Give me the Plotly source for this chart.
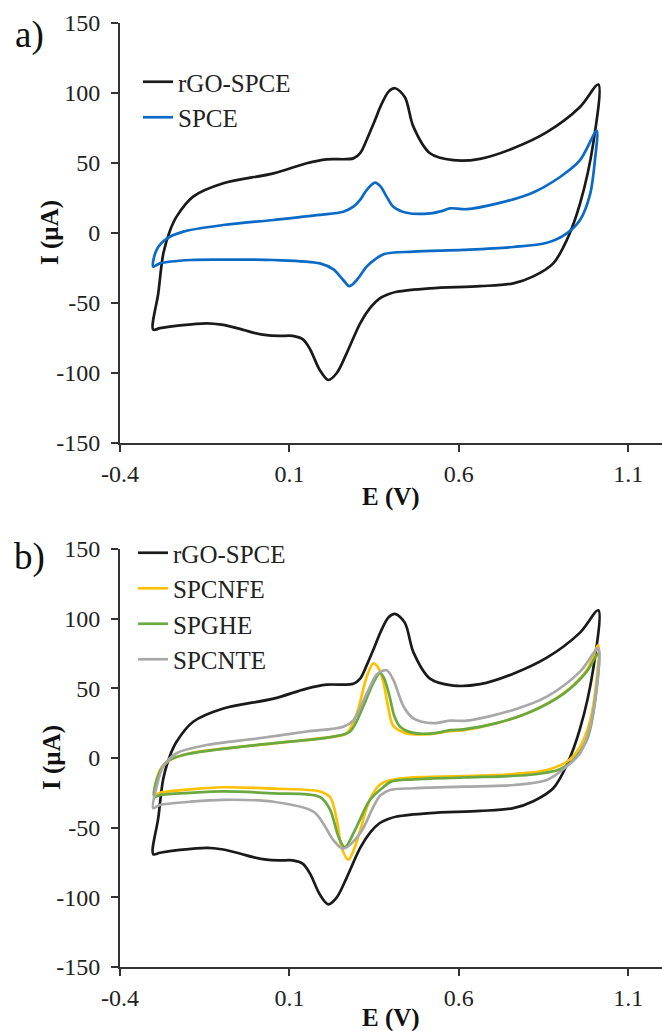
import plotly.graph_objects as go

# ---------------- data ----------------
# Panel a / b : rGO-SPCE (same curve in both panels)
rgo_E = [-0.302, -0.287, -0.272, -0.252, -0.233, -0.184, -0.095, 0.053, 0.151, 0.210,
         0.289, 0.309, 0.329, 0.350, 0.372, 0.393, 0.412, 0.441, 0.466, 0.515, 0.584,
         0.663, 0.761, 0.860, 0.958, 1.012, 0.997, 0.958, 0.919, 0.879, 0.820,
         0.761, 0.663, 0.515, 0.417, 0.390, 0.365, 0.340, 0.309, 0.269, 0.240, 0.215,
         0.190, 0.161, 0.140, 0.110, 0.072, 0.033, -0.010, -0.046, -0.100, -0.144,
         -0.223, -0.282, -0.302]
rgo_I = [-69, -43, -14.5, 2, 11.7, 26, 35.5, 42.6, 49.8, 52.6,
         53.3, 57, 67, 79, 92, 101, 103.4, 97, 76, 57, 52,
         53, 60.5, 72, 90, 106, 64, 21, -5, -21.7, -31,
         -36, -38, -39.5, -42, -44, -47, -53, -64.5, -86, -100, -105,
         -98, -83, -76, -73.5, -73.5, -73, -71, -68.5, -65.5, -64.5,
         -66, -68, -69]

# Panel a : SPCE
spce_E = [-0.302, -0.292, -0.262, -0.213, -0.095, 0.053, 0.190, 0.259, 0.289, 0.310,
          0.328, 0.353, 0.370, 0.387, 0.407, 0.446, 0.515, 0.555, 0.574, 0.624,
          0.712, 0.811, 0.899, 0.958, 1.007, 1.002, 0.988, 0.958, 0.919, 0.860,
          0.761, 0.614, 0.466, 0.380, 0.352, 0.328, 0.299, 0.277, 0.259, 0.230,
          0.190, 0.053, -0.095, -0.193, -0.282, -0.302]
spce_I = [-24, -12, -4, 1, 5.7, 9.3, 12.9, 15.2, 18.8, 24,
          30.7, 36, 33, 26, 18.8, 14.5, 14, 16, 17.6, 17,
          21, 28, 40, 52, 73, 52, 28, 9.3, -0.2, -7,
          -10, -12, -13.3, -15, -19, -24, -33.6, -38, -33.6, -26,
          -21.7, -19.3, -19, -19.3, -21.7, -24]

# Panel b : SPCNFE
spcnfe_E = [-0.297, -0.282, -0.252, -0.193, -0.046, 0.102, 0.230, 0.269, 0.299, 0.328,
            0.348, 0.362, 0.377, 0.392, 0.407, 0.446, 0.515, 0.565, 0.614, 0.712,
            0.811, 0.909, 0.978, 1.012, 1.007, 0.988, 0.958, 0.919, 0.860, 0.761,
            0.614, 0.466, 0.397, 0.368, 0.348, 0.328, 0.309, 0.290, 0.274, 0.254,
            0.240, 0.220, 0.190, 0.053, -0.095, -0.193, -0.282, -0.297]
spcnfe_I = [-26.6, -8.6, -1.4, 3.4, 8, 11.7, 15.3, 17.7, 32, 58,
            68, 65, 55, 36, 23, 17.7, 17.2, 19, 20, 25,
            33, 46.4, 63, 81, 56, 27, 8, -2.7, -8.6, -11.5,
            -13, -13.9, -16, -19, -25, -36, -52, -66, -73, -64,
            -44.5, -28, -24, -22, -21, -22.5, -25, -26.6]

# Panel b : SPGHE
spghe_E = [-0.299, -0.292, -0.262, -0.213, -0.046, 0.102, 0.230, 0.279, 0.318, 0.348,
           0.368, 0.380, 0.395, 0.410, 0.427, 0.466, 0.535, 0.574, 0.614, 0.712,
           0.811, 0.909, 0.978, 1.012, 0.997, 0.978, 0.938, 0.899, 0.811, 0.614,
           0.466, 0.400, 0.377, 0.338, 0.299, 0.264, 0.245, 0.220, 0.190, 0.053,
           -0.095, -0.193, -0.282, -0.299]
spghe_I = [-27.8, -16, -2.7, 2.2, 8, 11.7, 15.3, 19, 37, 54,
           61, 57, 45, 30, 22.5, 18, 18, 20, 20.5, 25,
           33, 46, 62, 75, 32, 13, -1.4, -8, -12, -14,
           -15.3, -17, -21, -30, -49, -64, -56.5, -37, -28, -25.4,
           -24, -25, -26.6, -27.8]

# Panel b : SPCNTE
spcnte_E = [-0.302, -0.292, -0.272, -0.233, -0.144, 0.004, 0.151, 0.259, 0.289, 0.328,
            0.358, 0.387, 0.407, 0.437, 0.466, 0.525, 0.574, 0.624, 0.761, 0.860,
            0.958, 1.012, 1.007, 0.988, 0.958, 0.919, 0.860, 0.761, 0.614, 0.466,
            0.397, 0.368, 0.348, 0.309, 0.259, 0.230, 0.200, 0.171, 0.053, -0.095,
            -0.193, -0.282, -0.302]
spcnte_I = [-36, -20.6, -6, 3.4, 9.3, 14, 19, 22.5, 27, 46,
            60, 63, 56, 37, 28.5, 25, 26.8, 26.8, 34.5, 44,
            62, 78.7, 51, 22.5, 3.4, -6, -15.8, -19.4, -20.6, -21.7,
            -23, -27, -35, -54, -65, -59, -47, -38.5, -31.4, -30,
            -31.4, -33.7, -36]

x_tickvals = [-0.4, 0.1, 0.6, 1.1]
x_ticktext = ["-0.4", "0.1", "0.6", "1.1"]
y_tickvals = [-150, -100, -50, 0, 50, 100, 150]
y_ticktext = ["-150", "-100", "-50", "0", "50", "100", "150"]

# ---------------- figure ----------------
SERIF = "Liberation Serif"
BLACK = "#1a1a1a"
BLUE = "#0a6ac6"
YELLOW = "#ffc000"
GREEN = "#6aa842"
GRAY = "#a8a8a8"
LW = 2.7

fig = go.Figure()

def add(E, I, name, color, xa, ya, legend, group):
    fig.add_trace(go.Scatter(
        x=E, y=I, name=name, mode="lines",
        line=dict(color=color, width=LW, shape="spline", smoothing=0.9),
        xaxis=xa, yaxis=ya, legend=legend, legendgroup=group))

add(rgo_E, rgo_I, "rGO-SPCE", BLACK, "x", "y", "legend", "a1")
add(spce_E, spce_I, "SPCE", BLUE, "x", "y", "legend", "a2")
add(rgo_E, rgo_I, "rGO-SPCE", BLACK, "x2", "y2", "legend2", "b1")
add(spcnfe_E, spcnfe_I, "SPCNFE", YELLOW, "x2", "y2", "legend2", "b2")
add(spghe_E, spghe_I, "SPGHE", GREEN, "x2", "y2", "legend2", "b3")
add(spcnte_E, spcnte_I, "SPCNTE", GRAY, "x2", "y2", "legend2", "b4")

axis_common = dict(showline=True, linecolor="#333333", linewidth=2,
                   ticks="outside", ticklen=7, tickwidth=2, tickcolor="#333333",
                   showgrid=False, zeroline=False, automargin=False,
                   tickfont=dict(family=SERIF, size=24, color="#222222"),
                   tickmode="array")

xa = dict(axis_common, range=[-0.4, 1.2], tickvals=x_tickvals, ticktext=x_ticktext,
          ticklabelstandoff=1)
ya = dict(axis_common, range=[-150, 150], tickvals=y_tickvals, ticktext=y_ticktext,
          ticklabelstandoff=6)

H_TOP, H_BOT = 23, 967
def py(p):  # pixel y -> paper y
    return (H_BOT - p) / (H_BOT - H_TOP)
def px(p):  # pixel x -> paper x
    return (p - 120) / 542

fig.update_layout(
    width=662, height=1031,
    margin=dict(l=120, r=0, t=23, b=64, autoexpand=False),
    paper_bgcolor="white", plot_bgcolor="white",
    xaxis=dict(xa, domain=[0, 1], anchor="y"),
    yaxis=dict(ya, domain=[py(443), 1], anchor="x"),
    xaxis2=dict(xa, domain=[0, 1], anchor="y2"),
    yaxis2=dict(ya, domain=[0, py(549)], anchor="x2"),
    legend=dict(x=px(138), y=py(59), xanchor="left", yanchor="top",
                bgcolor="rgba(0,0,0,0)",
                font=dict(family=SERIF, size=25, color="#222222"),
                tracegroupgap=5, traceorder="normal"),
    legend2=dict(x=px(133), y=py(530), xanchor="left", yanchor="top",
                 bgcolor="rgba(0,0,0,0)",
                 font=dict(family=SERIF, size=25, color="#222222"),
                 tracegroupgap=5, traceorder="normal"),
    showlegend=True,
)

ann_font = dict(family=SERIF, size=25, color="#111111")
def ann(text, x, y, font, angle=0):
    return dict(text=text, x=px(x), y=py(y), xref="paper", yref="paper",
                xanchor="center", yanchor="middle", showarrow=False,
                font=font, textangle=angle)

annotations = [
    ann("<b>E (V)</b>", 391, 497, ann_font),
    ann("<b>E (V)</b>", 391, 1018, ann_font),
    ann("<b>I (µA)</b>", 50, 233, ann_font, -90),
    ann("<b>I (µA)</b>", 52, 758, ann_font, -90),
    ann("a)", 29, 35, dict(family=SERIF, size=37, color="#111111")),
    ann("b)", 29, 557, dict(family=SERIF, size=37, color="#111111")),
]
fig.update_layout(annotations=annotations)

fig.write_html("out.html")
